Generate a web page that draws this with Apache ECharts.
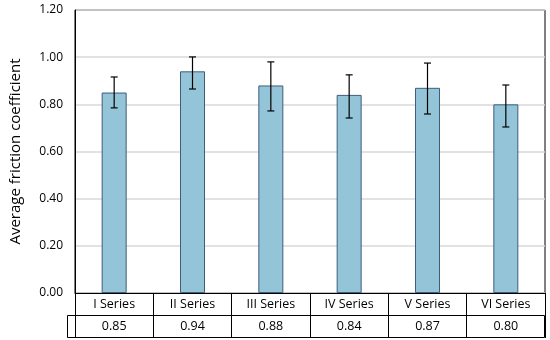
<!DOCTYPE html>
<html>
<head>
<meta charset="utf-8">
<script src="https://cdn.jsdelivr.net/npm/echarts@6/dist/echarts.min.js"></script>
<style>html,body{margin:0;padding:0;background:#fff}#c{width:550px;height:340px}</style>
</head>
<body>
<div id="c"></div>
<script>
var categories = ['I Series', 'II Series', 'III Series', 'IV Series', 'V Series', 'VI Series'];
var meanValues = [0.85, 0.94, 0.88, 0.84, 0.87, 0.80];
var errLow = [0.785, 0.865, 0.772, 0.742, 0.759, 0.704];
var errHigh = [0.916, 1.001, 0.980, 0.925, 0.975, 0.882];
var yTicks = [0, 0.2, 0.4, 0.6, 0.8, 1.0, 1.2];

var FONT = 'Open Sans';
var errData = categories.map(function (c, i) { return [i, errLow[i], errHigh[i]]; });

var chart = echarts.init(document.getElementById('c'), null, {renderer: 'canvas'});
chart.setOption({
  animation: false,
  textStyle: {fontFamily: FONT},
  grid: {left: 73, right: 5, top: 10, bottom: 47, show: true, borderColor: '#000', borderWidth: 1},
  xAxis: [{
    type: 'category',
    data: categories,
    position: 'bottom',
    axisLine: {show: true, lineStyle: {color: '#000', width: 1}},
    axisTick: {show: true, length: 22, interval: 0, alignWithLabel: false, lineStyle: {color: '#000'}},
    axisLabel: {interval: 0, margin: 5, fontSize: 12.5, color: '#000', fontFamily: FONT},
    splitLine: {show: false}
  }, {
    type: 'category',
    data: categories,
    position: 'bottom',
    offset: 22,
    axisLine: {show: false},
    axisTick: {show: true, length: 23, interval: 0, alignWithLabel: false, lineStyle: {color: '#000'}},
    axisLabel: {interval: 0, margin: 5, fontSize: 12.5, color: '#000', fontFamily: FONT,
      formatter: function (v, i) { return meanValues[i].toFixed(2); }},
    splitLine: {show: false}
  }],
  yAxis: {
    type: 'value',
    min: yTicks[0],
    max: yTicks[yTicks.length - 1],
    interval: 0.2,
    name: 'Average friction coefficient',
    nameLocation: 'middle',
    nameGap: 52,
    nameTextStyle: {fontSize: 15, color: '#000', fontFamily: FONT, padding: [0, 0, 0, 0]},
    axisLine: {show: true, lineStyle: {color: '#000'}},
    axisTick: {show: false},
    axisLabel: {fontSize: 12, color: '#000', margin: 12, fontFamily: FONT,
      formatter: function (v) { return v.toFixed(2); }},
    splitLine: {show: true, lineStyle: {color: '#d9d9d9', width: 1.5}}
  },
  graphic: [{
    type: 'rect',
    shape: {x: 67.5, y: 315.5, width: 477, height: 22},
    style: {fill: 'none', stroke: '#000', lineWidth: 1},
    z: 100
  }],
  series: [{
    type: 'bar',
    data: meanValues,
    barWidth: 25,
    itemStyle: {color: '#93c4d8', borderColor: '#3f5d7c', borderWidth: 1},
    z: 2
  }, {
    type: 'custom',
    data: errData,
    z: 5,
    renderItem: function (params, api) {
      var x = api.value(0);
      var lo = api.coord([x, api.value(1)]);
      var hi = api.coord([x, api.value(2)]);
      var hw = 3.5;
      var st = {stroke: '#000', lineWidth: 1.2};
      return {type: 'group', children: [
        {type: 'line', shape: {x1: lo[0], y1: lo[1], x2: hi[0], y2: hi[1]}, style: st},
        {type: 'line', shape: {x1: lo[0] - hw, y1: lo[1], x2: lo[0] + hw, y2: lo[1]}, style: st},
        {type: 'line', shape: {x1: hi[0] - hw, y1: hi[1], x2: hi[0] + hw, y2: hi[1]}, style: st}
      ]};
    }
  }]
});
</script>
</body>
</html>
